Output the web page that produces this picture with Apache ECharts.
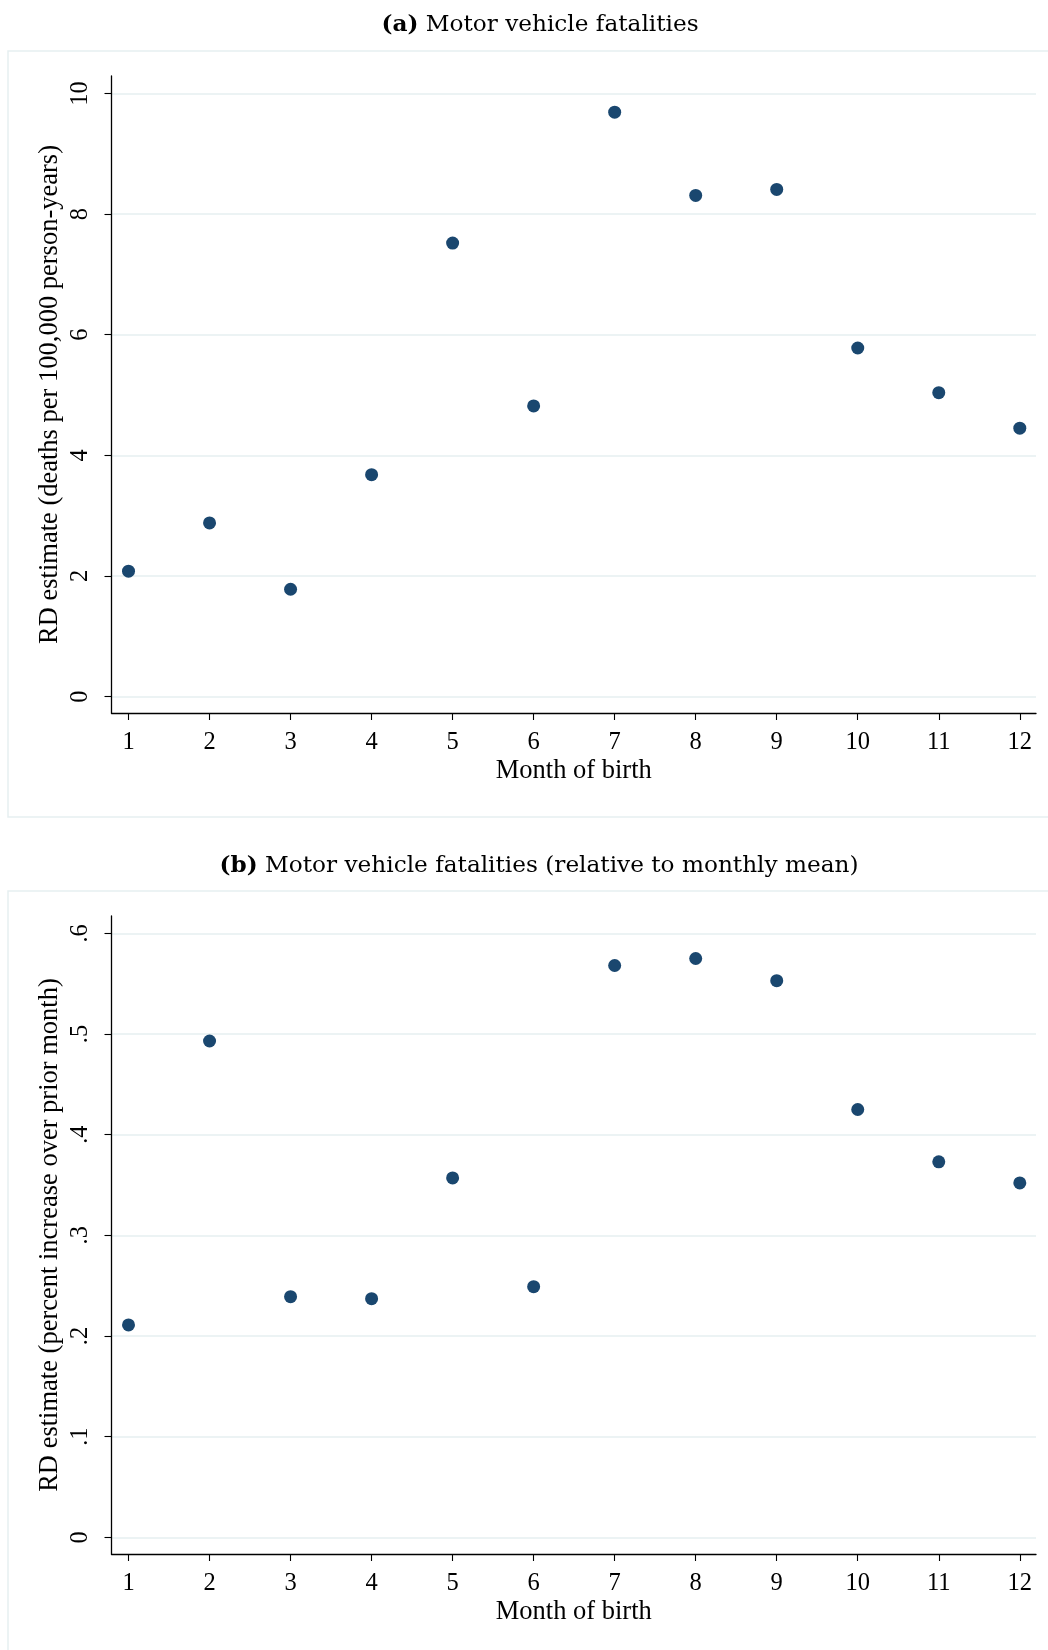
<!DOCTYPE html>
<html><head><meta charset="utf-8">
<script src="https://cdn.jsdelivr.net/npm/echarts@6/dist/echarts.min.js"></script>
<style>html,body{margin:0;padding:0;background:#fff}#c{width:1048px;height:1650px}</style>
</head><body><div id="c"></div>
<script>
const months = [1,2,3,4,5,6,7,8,9,10,11,12];
const fatalities = [2.08,2.88,1.78,3.68,7.52,4.82,9.69,8.31,8.41,5.78,5.04,4.45];
const relative = [0.211,0.493,0.239,0.237,0.357,0.249,0.568,0.575,0.553,0.425,0.373,0.352];
const ticksA = [0,2,4,6,8,10];
const ticksB = [0,0.1,0.2,0.3,0.4,0.5,0.6];
const tickLabelsB = ['0','.1','.2','.3','.4','.5','.6'];
const titleTagA = '(a)', titleA = 'Motor vehicle fatalities';
const titleTagB = '(b)', titleB = 'Motor vehicle fatalities (relative to monthly mean)';
const yNameA = 'RD estimate (deaths per 100,000 person-years)';
const yNameB = 'RD estimate (percent increase over prior month)';
const xName = 'Month of birth';

const SERIF = '"Liberation Serif","Times New Roman",serif';
const TSERIF = '"DejaVu Serif",serif';
const GRIDC = '#e6eff1';
const MARK = '#1a476f';

const chart = echarts.init(document.getElementById('c'), null, {renderer:'canvas'});

function xAxisDef(gi){
  return {
    type:'value', gridIndex:gi, min:0.79, max:12.2,
    axisLine:{show:true, onZero:false, lineStyle:{color:'#000', width:1.3}},
    axisTick:{show:true, length:7, customValues:months, lineStyle:{color:'#000', width:1.1}},
    axisLabel:{customValues:months, color:'#000', fontFamily:SERIF, fontSize:24.5, margin:17},
    splitLine:{show:false},
    name:xName, nameLocation:'middle', nameGap:45, nameMoveOverlap:false,
    nameTextStyle:{color:'#000', fontFamily:SERIF, fontSize:26.5}
  };
}
function yAxisDef(gi, min, max, ticks, fmt, name){
  return {
    type:'value', gridIndex:gi, min:min, max:max,
    axisLine:{show:true, onZero:false, lineStyle:{color:'#000', width:1.3}},
    axisTick:{show:true, length:7, customValues:ticks, lineStyle:{color:'#000', width:1.1}},
    axisLabel:{customValues:ticks, rotate:90, color:'#000', fontFamily:SERIF, fontSize:24.5, margin:18, formatter:fmt},
    splitLine:{show:true, lineStyle:{color:GRIDC, width:1.5}},
    name:name, nameLocation:'middle', nameGap:48, nameMoveOverlap:false,
    nameTextStyle:{color:'#000', fontFamily:SERIF, fontSize:26.5}
  };
}
function fmtB(v){
  for (let i=0;i<ticksB.length;i++) if (Math.abs(ticksB[i]-v)<1e-6) return tickLabelsB[i];
  return '';
}
function titleDef(tag, txt, x, y){
  return {text:'{b|'+tag+'} '+txt, left:x, top:y, textAlign:'center',
    textStyle:{fontFamily:TSERIF, fontSize:23.2, fontWeight:'normal', color:'#000',
      rich:{b:{fontFamily:TSERIF, fontSize:23.2, fontWeight:'bold', color:'#000'}}}};
}

const option = {
  backgroundColor:'#fff',
  animation:false,
  graphic:[
    {type:'rect', shape:{x:8, y:51, width:1060, height:766}, style:{fill:'#fff', stroke:GRIDC, lineWidth:1.5}, z:-10},
    {type:'rect', shape:{x:8, y:891, width:1060, height:800}, style:{fill:'#fff', stroke:GRIDC, lineWidth:1.5}, z:-10}
  ],
  title:[
    titleDef(titleTagA, titleA, 535, 8),
    titleDef(titleTagB, titleB, 534, 849)
  ],
  grid:[
    {left:111.5, right:12, top:76, height:637, containLabel:false},
    {left:111.5, right:12, top:916, height:638, containLabel:false}
  ],
  xAxis:[xAxisDef(0), xAxisDef(1)],
  yAxis:[
    yAxisDef(0, -0.272, 10.29, ticksA, null, yNameA),
    yAxisDef(1, -0.0166, 0.6172, ticksB, fmtB, yNameB)
  ],
  series:[
    {type:'scatter', xAxisIndex:0, yAxisIndex:0, symbol:'circle', symbolSize:13,
     itemStyle:{color:MARK, opacity:1}, data:months.map((m,i)=>[m,fatalities[i]])},
    {type:'scatter', xAxisIndex:1, yAxisIndex:1, symbol:'circle', symbolSize:13,
     itemStyle:{color:MARK, opacity:1}, data:months.map((m,i)=>[m,relative[i]])}
  ]
};
chart.setOption(option);
</script>
</body></html>
